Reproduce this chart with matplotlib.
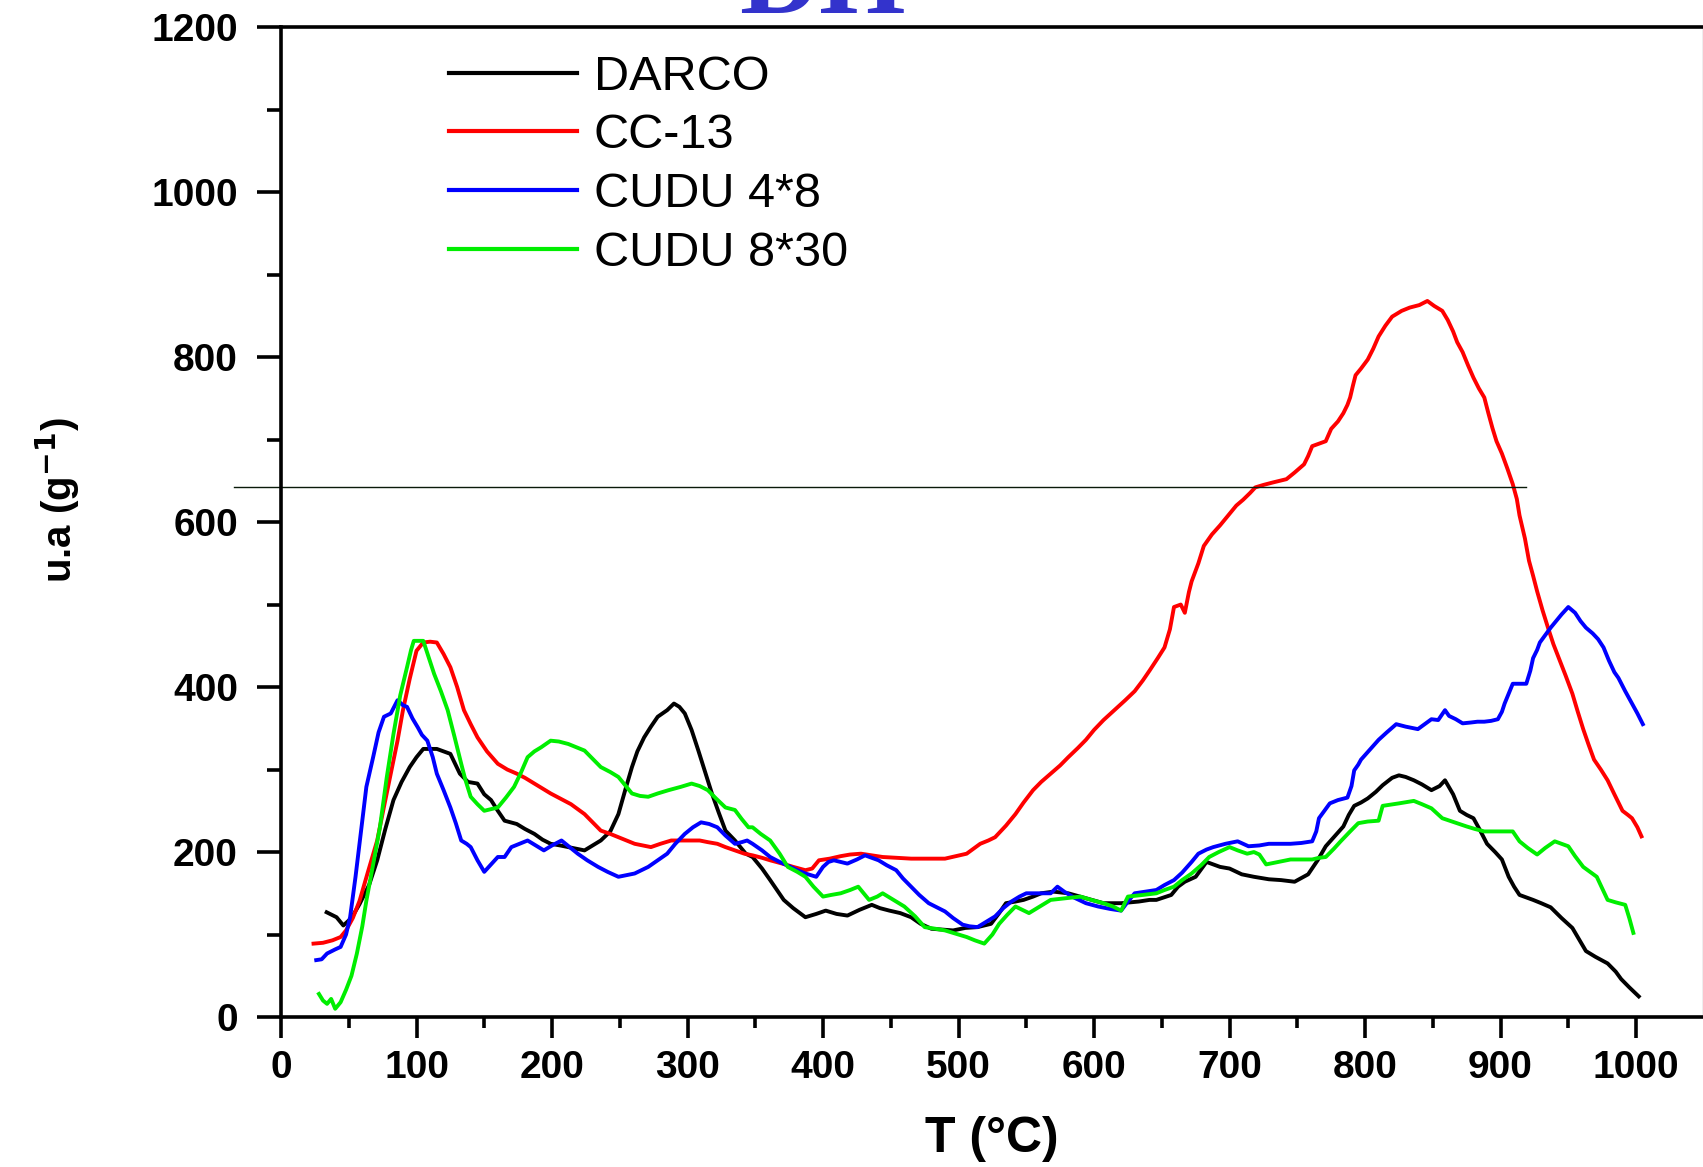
import matplotlib
matplotlib.use('Agg')
import matplotlib.pyplot as plt
from matplotlib.ticker import MultipleLocator

plt.rcParams['font.family'] = ['Liberation Sans', 'DejaVu Sans']

# ---- data ----
darco_x = [33.7, 41, 46, 52, 58, 65, 71, 77, 83, 89, 95, 100, 105, 115, 120, 125, 132, 138, 145, 150,
           155, 160, 165, 174, 180, 187, 193, 199, 206, 212, 218, 224, 230, 236, 243, 249, 254, 259, 263, 268,
           273, 278, 285, 290, 294, 298, 303, 308, 313, 318, 323, 328, 335, 343, 348, 355, 361, 366, 371, 378,
           387, 395, 402, 410, 418, 427, 436, 442, 449, 457, 465, 472, 480, 488, 496, 505, 514, 519, 524, 530,
           535, 542, 548, 555, 561, 570, 581, 594, 607, 620, 633, 641, 646, 657, 662, 667, 675, 683, 688, 693,
           700, 709, 718, 729, 738, 748, 758, 765, 771, 778, 784, 788, 792, 797, 802, 808, 813, 820, 825, 830,
           836, 842, 849, 855, 859, 865, 870, 875, 880, 885, 890, 896, 901, 906, 910, 914, 919, 924, 930, 937,
           945, 953, 958, 963, 970, 979, 985, 989, 995, 1002]
darco_y = [127, 121, 111, 120, 137, 160, 190, 228, 263, 285, 303, 315, 325, 325, 322, 319, 295, 285, 283, 270,
           263, 250, 238, 234, 228, 222, 215, 210, 208, 206, 204, 202, 208, 214, 225, 246, 275, 303, 322, 339,
           352, 364, 372, 380, 376, 368, 348, 323, 297, 271, 248, 226, 214, 198, 194, 180, 166, 154, 142, 132,
           121, 125, 129, 125, 123, 130, 136, 132, 129, 126, 121, 113, 107, 106, 105, 108, 109, 111, 113, 126,
           138, 140, 142, 146, 150, 152, 150, 144, 138, 138, 140, 142, 142, 148, 158, 164, 170, 188, 185, 182,
           180, 173, 170, 167, 166, 164, 173, 190, 207, 220, 231, 245, 256, 260, 265, 273, 281, 290, 293, 291,
           287, 282, 275, 280, 287, 270, 250, 245, 241, 226, 210, 200, 191, 170, 158, 148, 145, 142, 138, 133,
           120, 108, 94, 80, 73, 65, 55, 46, 36, 25]

cc13_x = [24, 31, 38, 44, 48, 53, 58, 64, 71, 76, 81, 86, 90, 95, 100, 105, 110, 115, 120, 125,
          130, 135, 140, 145, 152, 160, 167, 174, 180, 187, 193, 199, 206, 214, 219, 224, 230, 236, 243, 249,
          255, 261, 267, 273, 280, 288, 295, 303, 309, 315, 322, 328, 335, 342, 348, 355, 361, 370, 378, 387,
          392, 397, 405, 413, 420, 428, 436, 444, 455, 465, 478, 490, 498, 506, 511, 516, 522, 527, 535, 542,
          548, 555, 561, 568, 575, 581, 588, 594, 600, 607, 615, 623, 630, 636, 641, 647, 652, 656, 659, 664,
          667, 670, 672, 677, 681, 687, 693, 700, 705, 710, 715, 719, 725, 732, 737, 742, 748, 755, 758, 761,
          766, 771, 775, 780, 784, 787, 789, 791, 793, 797, 802, 806, 810, 815, 820, 827, 833, 840, 846, 851,
          857, 861, 865, 868, 872, 876, 880, 884, 888, 891, 894, 897, 901, 905, 909, 912, 914, 918, 921, 924,
          927, 931, 935, 939, 943, 948, 953, 957, 961, 965, 969, 974, 979, 984, 990, 994, 997, 1001, 1004]
cc13_y = [89, 90, 93, 97, 105, 120, 141, 175, 214, 255, 295, 335, 372, 410, 444, 454, 455, 454, 440, 424,
          400, 372, 355, 339, 322, 307, 300, 295, 290, 283, 277, 271, 265, 258, 252, 246, 236, 226, 222, 218,
          214, 210, 208, 206, 210, 214, 214, 214, 214, 212, 210, 206, 202, 198, 196, 193, 190, 186, 182, 178,
          180, 190, 192, 195, 197, 198, 196, 194, 193, 192, 192, 192, 195, 198, 204, 210, 214, 218, 232, 246,
          260, 275, 285, 295, 305, 315, 326, 336, 348, 360, 372, 384, 395, 408, 420, 435, 448, 470, 497, 500,
          490, 515, 528, 550, 571, 585, 596, 610, 620, 627, 635, 642, 645, 648, 650, 652, 660, 670, 680, 692,
          695, 698, 713, 722, 732, 742, 751, 765, 778, 786, 797, 810, 825, 838, 849, 856, 860, 863, 868, 862,
          856, 845, 831, 818, 806, 790, 775, 762, 751, 732, 714, 698, 683, 665, 646, 628, 608, 580, 553, 535,
          516, 493, 472, 452, 435, 414, 392, 370, 349, 330, 312, 300, 287, 270, 250, 245, 241, 230, 219]

cudu48_x = [26, 30, 34, 40, 44, 48, 51, 55, 59, 63, 68, 72, 76, 81, 86, 90, 93, 97, 101, 104,
            108, 112, 115, 120, 125, 129, 133, 137, 140, 145, 150, 155, 160, 165, 170, 176, 182, 188, 194, 200,
            207, 213, 219, 226, 234, 241, 249, 255, 261, 266, 271, 278, 285, 291, 298, 304, 310, 316, 322, 328,
            335, 340, 344, 348, 355, 361, 368, 376, 381, 387, 391, 395, 400, 404, 408, 413, 418, 425, 431, 436,
            441, 447, 454, 459, 465, 471, 478, 484, 490, 496, 503, 508, 514, 520, 527, 533, 539, 545, 550, 559,
            568, 573, 578, 585, 594, 603, 612, 620, 625, 630, 638, 646, 652, 659, 665, 672, 677, 683, 688, 697,
            706, 714, 722, 729, 737, 745, 753, 761, 764, 766, 770, 774, 780, 787, 790, 792, 795, 797, 803, 810,
            816, 823, 830, 839, 844, 849, 854, 859, 862, 867, 872, 878, 883, 888, 893, 898, 901, 903, 906, 909,
            914, 919, 922, 924, 927, 929, 933, 937, 941, 945, 950, 955, 959, 963, 968, 972, 976, 980, 984, 987,
            992, 997, 1001, 1005]
cudu48_y = [69, 70, 77, 82, 85, 100, 121, 170, 225, 279, 315, 345, 364, 368, 384, 378, 376, 362, 351, 342,
            335, 315, 295, 275, 254, 235, 214, 210, 206, 190, 176, 185, 194, 194, 206, 210, 214, 208, 202, 208,
            214, 206, 198, 190, 182, 176, 170, 172, 174, 178, 182, 190, 198, 210, 222, 230, 236, 234, 230, 220,
            210, 212, 214, 210, 202, 194, 188, 182, 178, 174, 172, 170, 182, 188, 190, 188, 186, 191, 196, 193,
            190, 184, 178, 168, 158, 148, 138, 133, 128, 120, 112, 110, 109, 115, 122, 132, 140, 146, 150, 150,
            150, 158, 152, 145, 138, 134, 131, 129, 140, 150, 152, 154, 160, 166, 175, 188, 198, 203, 206, 210,
            213, 207, 208, 210, 210, 210, 211, 213, 225, 241, 250, 259, 263, 266, 280, 299, 306, 312, 323, 336,
            345, 355, 352, 349, 355, 361, 360, 372, 365, 361, 356, 357, 358, 358, 359, 361, 370, 380, 392, 404,
            404, 404, 420, 435, 445, 454, 463, 472, 480, 488, 497, 490, 480, 472, 465, 458, 448, 432, 418, 411,
            395, 380, 368, 355]

cudu830_x = [28, 31, 34, 37, 40, 44, 48, 52, 56, 60, 63, 68, 73, 78, 83, 88, 93, 96, 98, 102,
             105, 109, 113, 118, 123, 128, 133, 136, 140, 145, 150, 155, 160, 166, 172, 177, 182, 187, 192, 199,
             205, 212, 218, 224, 230, 236, 243, 249, 254, 259, 265, 271, 278, 286, 295, 303, 309, 315, 321, 328,
             335, 340, 345, 348, 354, 361, 368, 374, 381, 387, 393, 400, 406, 413, 420, 426, 430, 434, 440, 444,
             452, 460, 468, 475, 483, 490, 498, 506, 512, 519, 525, 530, 536, 542, 547, 552, 560, 568, 579, 590,
             598, 607, 614, 620, 625, 636, 646, 652, 659, 665, 672, 679, 685, 692, 700, 706, 713, 718, 722, 727,
             736, 745, 753, 761, 766, 771, 777, 782, 789, 795, 802, 810, 813, 825, 836, 842, 849, 853, 857, 866,
             875, 881, 888, 895, 901, 905, 909, 914, 920, 927, 933, 940, 945, 950, 955, 961, 966, 971, 975, 979,
             985, 992, 995, 998]
cudu830_y = [28, 20, 16, 22, 10, 18, 33, 50, 77, 110, 141, 185, 230, 290, 343, 390, 424, 445, 456, 456,
             456, 436, 416, 395, 372, 340, 307, 288, 267, 258, 250, 252, 254, 266, 279, 296, 315, 322, 327, 335,
             334, 331, 327, 323, 313, 303, 297, 291, 281, 271, 268, 267, 271, 275, 279, 283, 280, 275, 265, 254,
             251, 240, 230, 230, 222, 214, 198, 182, 176, 170, 158, 146, 148, 150, 154, 158, 150, 142, 146, 150,
             142, 134, 122, 109, 107, 105, 101, 97, 93, 89, 100, 113, 124, 134, 130, 126, 134, 142, 144, 146,
             142, 138, 134, 129, 146, 148, 150, 154, 158, 166, 174, 184, 194, 200, 206, 202, 198, 200, 197, 185,
             188, 191, 191, 191, 193, 194, 204, 213, 225, 235, 237, 238, 256, 259, 262, 258, 253, 247, 241, 236,
             231, 228, 225, 225, 225, 225, 225, 213, 205, 197, 205, 213, 210, 207, 195, 182, 176, 170, 156, 142,
             139, 136, 120, 102]

series = [
    ('DARCO', darco_x, darco_y, '#000000'),
    ('CC-13', cc13_x, cc13_y, '#ff0000'),
    ('CUDU 4*8', cudu48_x, cudu48_y, '#0000ff'),
    ('CUDU 8*30', cudu830_x, cudu830_y, '#00ee00'),
]

# stray horizontal rule crossing the plot
rule_y = 642
rule_x = [-35, 919]

fig = plt.figure(figsize=(17.03, 11.67), dpi=100)
ax = fig.add_axes([0.1650, 0.1285, 0.8350, 0.8483])

for name, xs, ys, col in series:
    ax.plot(xs, ys, color=col, lw=2.8, label=name)

ax.plot(rule_x, [rule_y, rule_y], color='#0a1a0a', lw=1.0, clip_on=False)

ax.set_xlim(0, 1049.4)
ax.set_ylim(0, 1200)
ax.xaxis.set_major_locator(MultipleLocator(100))
ax.xaxis.set_minor_locator(MultipleLocator(50))
ax.yaxis.set_major_locator(MultipleLocator(200))
ax.yaxis.set_minor_locator(MultipleLocator(100))

for side in ['left', 'bottom', 'top']:
    ax.spines[side].set_linewidth(2.6)
ax.spines['right'].set_color('#aaaaaa')
ax.spines['right'].set_linewidth(1.0)

ax.tick_params(axis='x', which='major', direction='out', length=15, width=2.6, pad=9, labelsize=28)
ax.tick_params(axis='x', which='minor', direction='out', length=8, width=2.6)
ax.tick_params(axis='y', which='major', direction='out', length=17, width=2.6, pad=14, labelsize=28)
ax.tick_params(axis='y', which='minor', direction='out', length=10, width=2.6)
for lab in ax.get_xticklabels() + ax.get_yticklabels():
    lab.set_fontweight('bold')

ax.set_xlabel('T (°C)', fontsize=36, fontweight='bold')
ax.xaxis.set_label_coords(0.5, -0.100)
ax.set_ylabel('u.a (g$^{\\mathbf{-1}}$)', fontsize=29, fontweight='bold')
ax.yaxis.set_label_coords(-0.140, 0.522)

leg = ax.legend(loc='upper left', bbox_to_anchor=(0.118, 0.972), frameon=False,
                fontsize=35, handlelength=2.63, handletextpad=0.35, labelspacing=0.28,
                borderaxespad=0, borderpad=0)
for line in leg.get_lines():
    line.set_linewidth(3.0)

fig.text(0.4827, 0.9889, 'DH', color='#3333cc', fontsize=80, fontweight='bold',
         family=['Liberation Serif', 'DejaVu Serif'], ha='center', va='baseline')

fig.savefig('out.png', dpi=100)
